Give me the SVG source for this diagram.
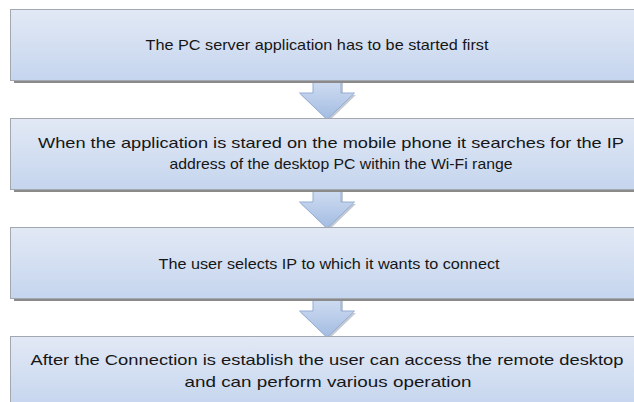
<svg xmlns="http://www.w3.org/2000/svg" width="634" height="402" viewBox="0 0 634 402">
  <defs>
    <linearGradient id="boxGrad" x1="0" y1="0" x2="0" y2="1">
      <stop offset="0" stop-color="#e2e9f5"/>
      <stop offset="1" stop-color="#c5d5ee"/>
    </linearGradient>
    <linearGradient id="arrGrad" x1="0" y1="0" x2="0" y2="1">
      <stop offset="0" stop-color="#d0ddf1"/>
      <stop offset="1" stop-color="#a3bce2"/>
    </linearGradient>
  </defs>
  <style>
    .shadow { fill: #8a8a8a; }
    .box { fill: url(#boxGrad); stroke: #a3a8b0; stroke-width: 1; }
    .arrow { fill: url(#arrGrad); stroke: #94acd3; stroke-width: 1; stroke-linejoin: miter; }
    .arrowShadow { fill: #7f8a9c; opacity: 0.45; }
    .label { font-family: "Liberation Sans", Arial, sans-serif; font-size: 15px; fill: #161616; text-anchor: middle; }
  </style>
  <rect width="634" height="402" fill="#ffffff"/>

  <g id="connectors">
    <g id="arrow1">
      <path class="arrowShadow" d="M315,82 V95 H301 L329,121 L356,95 H343 V82 Z"/>
      <path class="arrow" d="M313,80 V93 H299.5 L327,119.5 L354.5,93 H341 V80 Z"/>
    </g>
    <g id="arrow2">
      <path class="arrowShadow" d="M315,191 V204 H301 L329,230 L356,204 H343 V191 Z"/>
      <path class="arrow" d="M313,189 V202 H299.5 L327,228.5 L354.5,202 H341 V189 Z"/>
    </g>
    <g id="arrow3">
      <path class="arrowShadow" d="M315,300 V313 H301 L329,339 L356,313 H343 V300 Z"/>
      <path class="arrow" d="M313,298 V311 H299.5 L327,337.5 L354.5,311 H341 V298 Z"/>
    </g>
  </g>

  <g id="step1">
    <rect class="shadow" x="14" y="11" width="640" height="72"/>
    <rect class="box" x="10.5" y="9.5" width="640" height="71"/>
    <text class="label" x="317" y="50" textLength="343" lengthAdjust="spacingAndGlyphs">The PC server application has to be started first</text>
  </g>

  <g id="step2">
    <rect class="shadow" x="14" y="120" width="640" height="72"/>
    <rect class="box" x="10.5" y="118.5" width="640" height="71"/>
    <text class="label" x="331" y="148" textLength="586" lengthAdjust="spacingAndGlyphs">When the application is stared on the mobile phone it searches for the IP</text>
    <text class="label" x="341" y="169" textLength="343" lengthAdjust="spacingAndGlyphs">address of the desktop PC within the Wi-Fi range</text>
  </g>

  <g id="step3">
    <rect class="shadow" x="14" y="229" width="640" height="72"/>
    <rect class="box" x="10.5" y="227.5" width="640" height="71"/>
    <text class="label" x="329" y="269" textLength="341" lengthAdjust="spacingAndGlyphs">The user selects IP to which it wants to connect</text>
  </g>

  <g id="step4">
    <rect class="shadow" x="14" y="338" width="640" height="72"/>
    <rect class="box" x="10.5" y="336.5" width="640" height="71"/>
    <text class="label" x="327" y="365" textLength="593" lengthAdjust="spacingAndGlyphs">After the Connection is establish the user can access the remote desktop</text>
    <text class="label" x="328" y="387" textLength="287" lengthAdjust="spacingAndGlyphs">and can perform various operation</text>
  </g>
</svg>
